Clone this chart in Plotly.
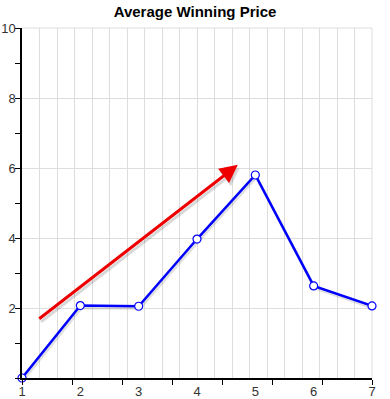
import plotly.graph_objects as go

x_vals = [1, 2, 3, 4, 5, 6, 7]
y_vals = [0.0, 2.07, 2.05, 3.97, 5.8, 2.63, 2.06]
arrow_start = [1.27, 1.66]
arrow_end = [4.70, 6.09]
y_tick_vals = [2, 4, 6, 8, 10]
x_tick_vals = [1, 2, 3, 4, 5, 6, 7]

shadow_dy = 0.06
shadow_dx = 0.02

fig = go.Figure()
fig.add_trace(go.Scatter(
    x=[v + shadow_dx for v in x_vals], y=[v - shadow_dy for v in y_vals],
    mode="lines", line=dict(color="rgba(0,0,0,0.12)", width=3),
    hoverinfo="skip", showlegend=False, cliponaxis=False))
fig.add_trace(go.Scatter(
    x=x_vals, y=y_vals, mode="lines+markers",
    line=dict(color="#0000ff", width=2.5),
    marker=dict(symbol="circle", size=8, color="white",
                line=dict(color="#0000ff", width=1.2)),
    showlegend=False, cliponaxis=False))
fig.add_trace(go.Scatter(x=[x_vals[0], x_vals[-1]], y=[0, 0], xaxis="x2",
                         mode="markers", marker=dict(opacity=0),
                         hoverinfo="skip", showlegend=False))

fig.add_annotation(x=arrow_end[0] + 0.03, y=arrow_end[1] - 0.09,
                   ax=arrow_start[0] + 0.03, ay=arrow_start[1] - 0.09,
                   xref="x", yref="y", axref="x", ayref="y", text="",
                   showarrow=True, arrowhead=2, arrowsize=1.2, arrowwidth=3,
                   arrowcolor="rgba(0,0,0,0.15)")
fig.add_annotation(x=arrow_end[0], y=arrow_end[1],
                   ax=arrow_start[0], ay=arrow_start[1],
                   xref="x", yref="y", axref="x", ayref="y", text="",
                   showarrow=True, arrowhead=2, arrowsize=1.2, arrowwidth=3,
                   arrowcolor="#ee0000")

fig.update_layout(
    width=390, height=399,
    margin=dict(l=22, r=18, t=28, b=21, autoexpand=False),
    paper_bgcolor="white", plot_bgcolor="white",
    font=dict(family="Liberation Sans, Arial, sans-serif", size=13, color="#333"),
    title=dict(text="<b>Average Winning Price</b>", x=0.5, xanchor="center",
               y=1 - 12 / 399, yanchor="middle", font=dict(size=15, color="#000")),
    xaxis=dict(range=[1, 7], tickvals=x_tick_vals,
               ticktext=[str(v) for v in x_tick_vals],
               ticks="", showgrid=False, zeroline=False, automargin=False,
               showline=True, linecolor="#000", linewidth=1.5,
               minor=dict(tickvals=[1 + k * 6 / 7 for k in range(8)],
                          ticks="outside", ticklen=5, tickcolor="#000",
                          showgrid=False),
               tickfont=dict(size=13, color="#333"), ticklabelstandoff=1),
    xaxis2=dict(range=[1, 7], overlaying="x", dtick=0.3, tick0=1,
                showgrid=True, gridcolor="#dddddd", gridwidth=1, automargin=False,
                showticklabels=False, ticks="", zeroline=False,
                showline=False, layer="below traces", side="bottom"),
    yaxis=dict(range=[0, 10], tickvals=y_tick_vals, automargin=False,
               ticks="outside", ticklen=5, tickcolor="#000",
               showgrid=True, gridcolor="#dddddd", zeroline=False,
               showline=True, linecolor="#000", linewidth=1.5,
               minor=dict(dtick=1, ticks="outside", ticklen=5,
                          tickcolor="#000", showgrid=False),
               tickfont=dict(size=13, color="#333"), ticklabelstandoff=-3),
)
fig.add_shape(type="line", xref="paper", yref="paper", x0=0, x1=1, y0=1, y1=1,
              line=dict(color="#dddddd", width=1), layer="below")
fig.add_shape(type="line", xref="paper", yref="paper", x0=1, x1=1, y0=0, y1=1,
              line=dict(color="#dddddd", width=1), layer="below")

fig.write_html("out.html", config={"displayModeBar": False},
               post_script="document.body.style.margin='0';")
